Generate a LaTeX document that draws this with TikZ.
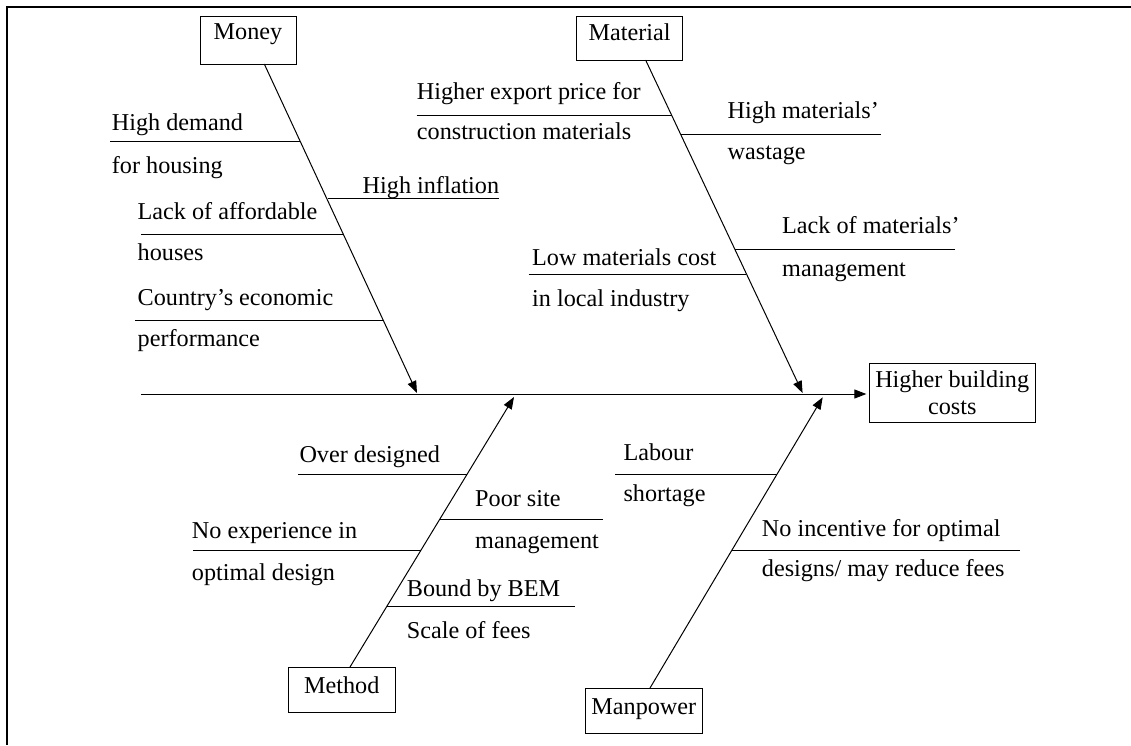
\documentclass[tikz,border=0pt]{standalone}
\usepackage{fontspec}
\setmainfont{Liberation Serif}
\usetikzlibrary{arrows.meta}
\begin{document}
\begin{tikzpicture}[x=1pt,y=-1pt,
  every node/.style={font=\fontsize{24.2}{27.3}\selectfont, inner sep=0pt},
  lbl/.style={anchor=base west},
  catbox/.style={draw, line width=1pt, anchor=base},
  bone/.style={line width=1pt, -{Triangle[length=12pt,width=9pt]}},
  rib/.style={line width=1pt},
]
\useasboundingbox (0,0) rectangle (1131,745);

% frame (top and left edges only)
\draw[line width=2pt] (6.5,745) -- (6.5,6.5) -- (1131,6.5);

% category boxes
\node (money) [catbox, minimum width=96, text height=23.3, text depth=24.7] at (248,39.3) {Money};
\node (material) [catbox, minimum width=106.2, text height=24, text depth=20] at (629.6,40) {Material};
\node (method) [catbox, minimum width=106.8, text height=26, text depth=19] at (341.7,693) {Method};
\node (manpower) [catbox, minimum width=116.4, text height=25.9, text depth=19] at (643.8,714) {Manpower};

% effect box
\node (result) [draw, line width=1pt, minimum width=165.7, minimum height=59.4, align=center] at (952.2,393) {Higher building\\costs};

% spine
\coordinate (tail) at (141,394);
\draw[bone, shorten >=2.5pt] (tail) -- (tail -| result.west);

% main bones
\coordinate (moneyfoot) at (264.3,64);
\coordinate (moneyhead) at (417,393);
\coordinate (materialfoot) at (645.6,60);
\coordinate (materialhead) at (802.6,393);
\coordinate (methodfoot) at (350,667);
\coordinate (methodhead) at (514,397);
\coordinate (manpowerfoot) at (650,688);
\coordinate (manpowerhead) at (822.7,397.3);
\draw[bone] (moneyfoot) -- (moneyhead);
\draw[bone] (materialfoot) -- (materialhead);
\draw[bone] (methodfoot) -- (methodhead);
\draw[bone] (manpowerfoot) -- (manpowerhead);

% Money causes
\coordinate (r1a) at (110,141.7);   \coordinate (r1b) at (299.8,141.7);
\coordinate (r2a) at (328,198.3);   \coordinate (r2b) at (498.5,198.3);
\coordinate (r3a) at (141,234);     \coordinate (r3b) at (342.8,234);
\coordinate (r4a) at (135,320);     \coordinate (r4b) at (382.9,320);
\draw[rib] (r1a) -- (r1b);
\draw[rib] (r2a) -- (r2b);
\draw[rib] (r3a) -- (r3b);
\draw[rib] (r4a) -- (r4b);
\node (c1a) [lbl] at (111.7,130.7) {High demand};
\node (c1b) [lbl] at (111.7,173) {for housing};
\node (c2a) [lbl] at (362.5,193.3) {High inflation};
\node (c3a) [lbl] at (137.5,219.3) {Lack of affordable};
\node (c3b) [lbl] at (137.5,260.7) {houses};
\node (c4a) [lbl] at (137.5,305) {Country’s economic};
\node (c4b) [lbl] at (137.5,346.7) {performance};

% Material causes
\coordinate (r5a) at (416.7,115);   \coordinate (r5b) at (671.5,115);
\coordinate (r6a) at (680.6,134.3); \coordinate (r6b) at (880.5,134.3);
\coordinate (r7a) at (734.7,249.3); \coordinate (r7b) at (955,249.3);
\coordinate (r8a) at (528.6,274);   \coordinate (r8b) at (746.4,274);
\draw[rib] (r5a) -- (r5b);
\draw[rib] (r6a) -- (r6b);
\draw[rib] (r7a) -- (r7b);
\draw[rib] (r8a) -- (r8b);
\node (c5a) [lbl] at (416.7,99) {Higher export price for};
\node (c5b) [lbl] at (416.7,139.3) {construction materials};
\node (c6a) [lbl] at (727.5,118.3) {High materials’};
\node (c6b) [lbl] at (727.5,159.3) {wastage};
\node (c7a) [lbl] at (782,233.3) {Lack of materials’};
\node (c7b) [lbl] at (782,276.7) {management};
\node (c8a) [lbl] at (532,265) {Low materials cost};
\node (c8b) [lbl] at (532,306.7) {in local industry};

% Method causes
\coordinate (r9a) at (298.3,474);   \coordinate (r9b) at (467.2,474);
\coordinate (r10a) at (439.8,519);  \coordinate (r10b) at (603.3,519);
\coordinate (r11a) at (193.3,550.7);\coordinate (r11b) at (420.6,550.7);
\coordinate (r12a) at (386.6,606.7);\coordinate (r12b) at (575,606.7);
\draw[rib] (r9a) -- (r9b);
\draw[rib] (r10a) -- (r10b);
\draw[rib] (r11a) -- (r11b);
\draw[rib] (r12a) -- (r12b);
\node (c9a) [lbl] at (299.3,462.7) {Over designed};
\node (c10a) [lbl] at (475,506.7) {Poor site};
\node (c10b) [lbl] at (475,548.3) {management};
\node (c11a) [lbl] at (191.7,538.3) {No experience in};
\node (c11b) [lbl] at (191.7,580) {optimal design};
\node (c12a) [lbl] at (406.7,596) {Bound by BEM};
\node (c12b) [lbl] at (406.7,638) {Scale of fees};

% Manpower causes
\coordinate (r13a) at (615,474);    \coordinate (r13b) at (777.1,474);
\coordinate (r14a) at (731.6,550.7);\coordinate (r14b) at (1020,550.7);
\draw[rib] (r13a) -- (r13b);
\draw[rib] (r14a) -- (r14b);
\node (c13a) [lbl] at (623.3,460.7) {Labour};
\node (c13b) [lbl] at (623.3,501.7) {shortage};
\node (c14a) [lbl] at (761.7,536.7) {No incentive for optimal};
\node (c14b) [lbl] at (761.7,576.7) {designs/ may reduce fees};
\end{tikzpicture}
\end{document}
